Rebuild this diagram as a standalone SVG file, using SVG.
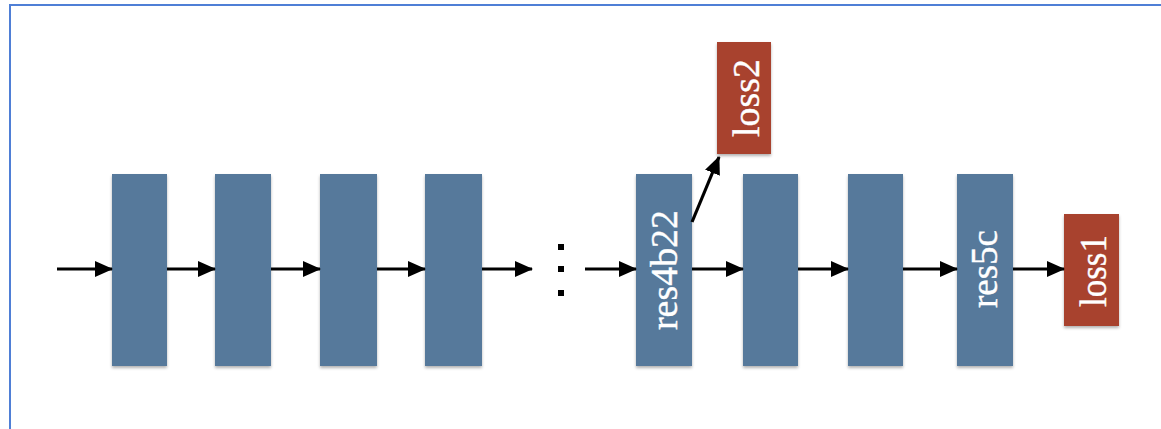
<svg xmlns="http://www.w3.org/2000/svg" width="1161" height="429" viewBox="0 0 1161 429">
<style>
.blk{fill:#57799b;filter:url(#sh)}
.loss{fill:#a8432d;filter:url(#sh)}
.lbl{font-family:"Liberation Serif","DejaVu Serif",serif;font-size:37px;fill:#ffffff;stroke:#ffffff;stroke-width:0.4}
.conn line{stroke:#000;stroke-width:3.2;marker-end:url(#ah)}
.dot{fill:#000}
</style>
<defs>
<marker id="ah" markerWidth="18" markerHeight="16" refX="17" refY="8" orient="auto" markerUnits="userSpaceOnUse">
<path d="M0,0 L18,8 L0,16 Z" fill="#000"/>
</marker>
<filter id="sh" x="-20%" y="-10%" width="140%" height="125%">
<feDropShadow dx="0" dy="2" stdDeviation="1.5" flood-color="#000" flood-opacity="0.3"/>
</filter>
</defs>
<rect x="0" y="0" width="1161" height="429" fill="#ffffff"/>
<rect x="10" y="5" width="1170" height="440" fill="none" stroke="#4f7fd6" stroke-width="2"/>
<g id="b1"><rect class="blk" x="112" y="174" width="55" height="192"/></g>
<g id="b2"><rect class="blk" x="215" y="174" width="56" height="192"/></g>
<g id="b3"><rect class="blk" x="320" y="174" width="57" height="192"/></g>
<g id="b4"><rect class="blk" x="425" y="174" width="57" height="192"/></g>
<g id="dots"><rect class="dot" x="558" y="244" width="6" height="6"/><rect class="dot" x="558" y="266" width="6" height="6"/><rect class="dot" x="558" y="290" width="6" height="6"/></g>
<g id="res4b22"><rect class="blk" x="636" y="174" width="56" height="192"/><text class="lbl" transform="translate(677,270) rotate(-90)" text-anchor="middle" textLength="120" lengthAdjust="spacingAndGlyphs">res4b22</text></g>
<g id="loss2"><rect class="loss" x="717" y="42" width="54" height="112"/><text class="lbl" transform="translate(759,98) rotate(-90)" text-anchor="middle" textLength="78" lengthAdjust="spacingAndGlyphs">loss2</text></g>
<g id="b6"><rect class="blk" x="743" y="174" width="55" height="192"/></g>
<g id="b7"><rect class="blk" x="848" y="174" width="55" height="192"/></g>
<g id="res5c"><rect class="blk" x="957" y="174" width="56" height="192"/><text class="lbl" transform="translate(997,269) rotate(-90)" text-anchor="middle" textLength="78" lengthAdjust="spacingAndGlyphs">res5c</text></g>
<g id="loss1"><rect class="loss" x="1064" y="214" width="55" height="112"/><text class="lbl" transform="translate(1106,271) rotate(-90)" text-anchor="middle" textLength="72" lengthAdjust="spacingAndGlyphs">loss1</text></g>
<g id="connectors" class="conn">
<line x1="57" y1="269" x2="112" y2="269"/>
<line x1="167" y1="269" x2="215" y2="269"/>
<line x1="271" y1="269" x2="320" y2="269"/>
<line x1="377" y1="269" x2="425" y2="269"/>
<line x1="482" y1="269" x2="532" y2="269"/>
<line x1="585" y1="269" x2="636" y2="269"/>
<line x1="692" y1="269" x2="743" y2="269"/>
<line x1="798" y1="269" x2="848" y2="269"/>
<line x1="903" y1="269" x2="957" y2="269"/>
<line x1="1013" y1="269" x2="1064" y2="269"/>
<line x1="692" y1="222" x2="719" y2="157"/>
</g>
</svg>
